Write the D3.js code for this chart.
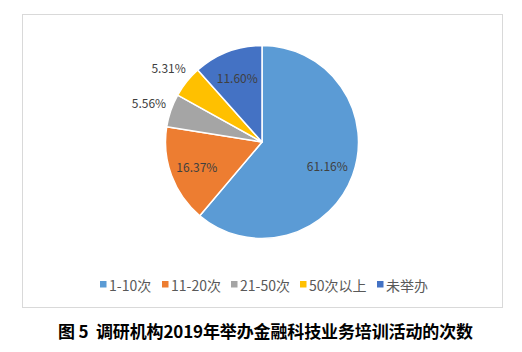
<!DOCTYPE html>
<html><head><meta charset="utf-8">
<script src="https://cdn.jsdelivr.net/npm/d3@7"></script>
<style>body{margin:0;background:#fff}svg{display:block}</style>
</head><body>
<svg id="c" width="522" height="352"></svg>
<script>
const categories = ["1-10次", "11-20次", "21-50次", "50次以上", "未举办"];
const values = [61.16, 16.37, 5.56, 5.31, 11.60];
const labels = ["61.16%", "16.37%", "5.56%", "5.31%", "11.60%"];
const colors = ["#5B9BD5", "#ED7D31", "#A5A5A5", "#FFC000", "#4472C4"];
const outside = [false, false, true, true, false];
const title = "图 5  调研机构2019年举办金融科技业务培训活动的次数";

const svg = d3.select("#c");
const font = "'Noto Sans CJK SC', 'Microsoft YaHei', sans-serif";

svg.append("rect").attr("x", 22.5).attr("y", 14.5).attr("width", 480).attr("height", 293)
  .attr("fill", "#fff").attr("stroke", "#d9d9d9").attr("stroke-width", 1);

const cx = 262, cy = 142, R = 96.5;
const g = svg.append("g").attr("transform", `translate(${cx},${cy})`);
const pie = d3.pie().sort(null).value(d => d)(values);
const arc = d3.arc().innerRadius(0).outerRadius(R);
g.selectAll("path").data(pie).join("path")
  .attr("d", arc).attr("fill", (d, i) => colors[i])
  .attr("stroke", "#fff").attr("stroke-width", 1.5).attr("stroke-linejoin", "round");

const inArc = d3.arc().innerRadius(R * 0.72).outerRadius(R * 0.72);
const outArc = d3.arc().innerRadius(R * 1.24).outerRadius(R * 1.24);
g.selectAll("text").data(pie).join("text")
  .attr("transform", (d, i) => `translate(${(outside[i] ? outArc : inArc).centroid(d)})`)
  .attr("text-anchor", "middle").attr("dominant-baseline", "central")
  .attr("font-family", font).attr("font-size", 12).attr("fill", "#404040")
  .text((d, i) => labels[i]);

// legend
const lg = svg.append("g").attr("font-family", font).attr("font-size", 14);
const legendX = [100, 162, 231, 300, 377];
categories.forEach((c, i) => {
  lg.append("rect").attr("x", legendX[i]).attr("y", 281).attr("width", 6.5).attr("height", 6.5).attr("fill", colors[i]);
  lg.append("text").attr("x", legendX[i] + 9).attr("y", 284.5).attr("dominant-baseline", "central")
    .attr("fill", "#595959").text(c);
});

svg.append("text").attr("x", 58).attr("y", 330)
  .attr("dominant-baseline", "central").attr("font-family", "'Noto Sans CJK SC', serif")
  .attr("font-weight", "bold").attr("font-size", 17).attr("fill", "#000")
  .attr("textLength", 415).attr("lengthAdjust", "spacing")
  .style("white-space", "pre").text(title);
</script>
</body></html>
